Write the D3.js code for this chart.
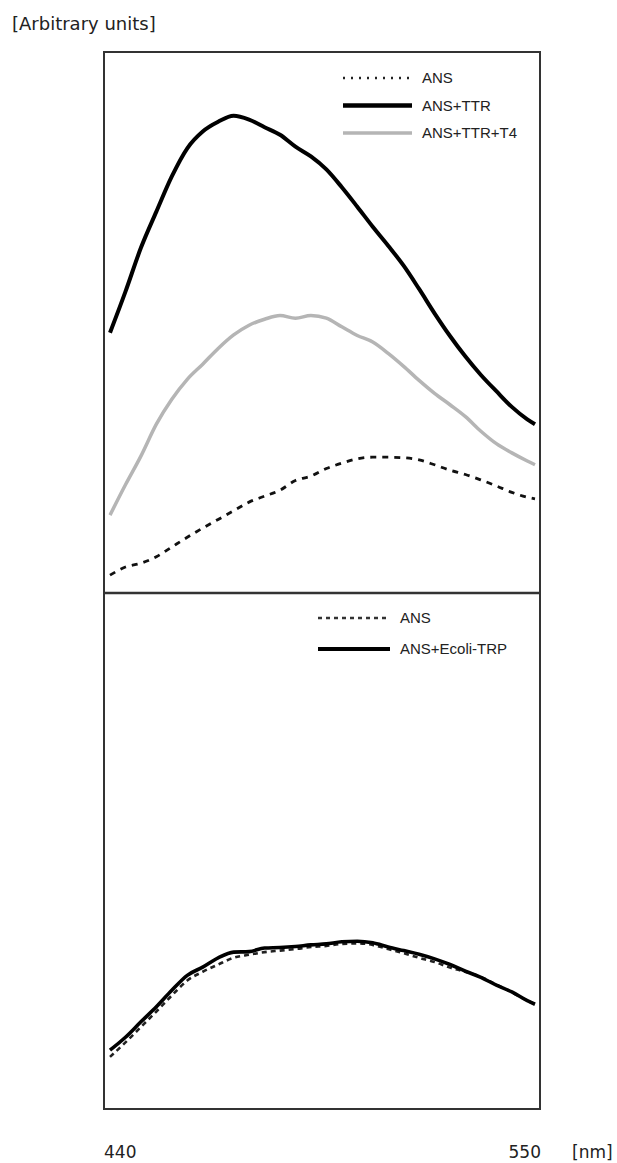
<!DOCTYPE html>
<html>
<head>
<meta charset="utf-8">
<script src="https://cdn.jsdelivr.net/npm/d3@7"></script>
<style>
  body { margin: 0; background: #fff; }
  svg { display: block; }
</style>
</head>
<body>
<svg id="viz"></svg>
<script>
// wavelength grid (nm)
const wavelengths = [440, 444, 448, 452, 456, 460, 464, 468, 472, 476, 480, 484, 488, 492, 496,
  500, 504, 508, 512, 516, 520, 524, 528, 532, 536, 540, 544, 548, 550];

// top panel (arbitrary units)
const ansTop = [3.3, 4.8, 5.5, 6.7, 8.5, 10.3, 12.0, 13.6, 15.2, 16.8, 17.9, 19.0, 20.8, 21.6, 23.0,
  24.0, 24.8, 25.1, 25.1, 25.0, 24.6, 23.7, 22.7, 21.9, 20.9, 19.8, 18.6, 17.7, 17.4];
const ansTTR = [48.1, 55.7, 63.8, 70.5, 77.0, 82.2, 85.3, 87.1, 88.2, 87.5, 86.1, 84.7, 82.5, 80.7, 78.3,
  75.0, 71.4, 67.7, 64.2, 60.5, 56.2, 51.7, 47.5, 43.7, 40.3, 37.3, 34.4, 32.1, 31.2];
const ansTTRT4 = [14.4, 20.0, 25.3, 31.2, 35.8, 39.5, 42.3, 45.2, 47.7, 49.5, 50.6, 51.3, 50.8, 51.3, 50.8,
  49.2, 47.6, 46.4, 44.3, 41.9, 39.3, 36.9, 34.8, 32.6, 29.9, 27.6, 25.9, 24.4, 23.7];

// bottom panel (arbitrary units)
const ansBottom = [10.1, 12.9, 15.9, 18.9, 22.0, 24.9, 26.6, 28.0, 29.3, 29.9, 30.4, 30.7, 31.0, 31.4, 31.6,
  32.0, 32.1, 31.8, 31.0, 30.2, 29.3, 28.5, 27.4, 26.6, 25.6, 24.1, 22.6, 21.0, 20.3];
const ansEcoli = [11.4, 13.9, 16.9, 19.8, 23.0, 25.9, 27.5, 29.3, 30.4, 30.5, 31.2, 31.3, 31.5, 31.8, 32.0,
  32.4, 32.5, 32.2, 31.4, 30.7, 30.0, 29.1, 28.0, 26.7, 25.5, 24.0, 22.7, 21.0, 20.3];

const topLegend = ['ANS', 'ANS+TTR', 'ANS+TTR+T4'];
const bottomLegend = ['ANS', 'ANS+Ecoli-TRP'];
const xTickLabels = ['440', '550'];

var width = 617;
var height = 1163;

var frame = { left: 104, right: 540, top: 52, mid: 593, bottom: 1109 };

var svg = d3.select('#viz').attr('width', width).attr('height', height);

var x = d3.scaleLinear().domain([440, 550]).range([110, 535]);
var yTop = d3.scaleLinear().domain([0, 100]).range([frame.mid, frame.top]);
var yBottom = d3.scaleLinear().domain([0, 100]).range([frame.bottom, frame.mid]);

function series(values) {
  return values.map(function (v, i) {
    return { w: wavelengths[i], v: v };
  });
}

function drawCurve(values, yScale, stroke, strokeWidth, dash) {
  var line = d3
    .line()
    .x(function (d) {
      return x(d.w);
    })
    .y(function (d) {
      return yScale(d.v);
    })
    .curve(d3.curveMonotoneX);

  svg
    .append('path')
    .datum(series(values))
    .attr('d', line)
    .attr('fill', 'none')
    .attr('stroke', stroke)
    .attr('stroke-width', strokeWidth)
    .attr('stroke-linejoin', 'round')
    .attr('stroke-dasharray', dash || null);
}

// top panel curves
drawCurve(ansTop, yTop, '#111', 2.8, '6,6');
drawCurve(ansTTRT4, yTop, '#b5b5b5', 3.5);
drawCurve(ansTTR, yTop, '#000', 4);

// bottom panel curves
drawCurve(ansBottom, yBottom, '#222', 2.6, '5,4');
drawCurve(ansEcoli, yBottom, '#000', 3.6);

// frames
svg
  .append('rect')
  .attr('x', frame.left)
  .attr('y', frame.top)
  .attr('width', frame.right - frame.left)
  .attr('height', frame.bottom - frame.top)
  .attr('fill', 'none')
  .attr('stroke', '#333')
  .attr('stroke-width', 2);

svg
  .append('line')
  .attr('x1', frame.left)
  .attr('x2', frame.right)
  .attr('y1', frame.mid)
  .attr('y2', frame.mid)
  .attr('stroke', '#333')
  .attr('stroke-width', 2.5);

// legends
var topStyles = [
  { stroke: '#222', width: 2.5, dash: '2,6' },
  { stroke: '#000', width: 4.5, dash: null },
  { stroke: '#b5b5b5', width: 3.5, dash: null },
];
var bottomStyles = [
  { stroke: '#333', width: 2.5, dash: '4,4' },
  { stroke: '#000', width: 4, dash: null },
];

function drawLegend(names, styles, x0, x1, y0, step) {
  var g = svg.append('g').attr('class', 'legend');
  var item = g
    .selectAll('g')
    .data(names)
    .enter()
    .append('g')
    .attr('transform', function (d, i) {
      return 'translate(0,' + (y0 + i * step) + ')';
    });

  item
    .append('line')
    .attr('x1', x0)
    .attr('x2', x1)
    .attr('stroke', function (d, i) {
      return styles[i].stroke;
    })
    .attr('stroke-width', function (d, i) {
      return styles[i].width;
    })
    .attr('stroke-dasharray', function (d, i) {
      return styles[i].dash;
    });

  item
    .append('text')
    .attr('x', x1 + 10)
    .attr('dy', '0.35em')
    .text(function (d) {
      return d;
    })
    .style('fill', '#222')
    .style('font-family', 'Liberation Sans, Arial, sans-serif')
    .style('font-size', '15px');
}

drawLegend(topLegend, topStyles, 343, 412, 78, 27.5);
drawLegend(bottomLegend, bottomStyles, 318, 390, 618, 31);

// axis texts
svg
  .append('text')
  .attr('x', 12)
  .attr('y', 30)
  .text('[Arbitrary units]')
  .style('fill', '#222')
  .style('font-family', 'DejaVu Sans, sans-serif')
  .style('font-size', '18px');

svg
  .append('text')
  .attr('x', frame.left)
  .attr('y', 1158)
  .text(xTickLabels[0])
  .style('fill', '#222')
  .style('font-family', 'DejaVu Sans, sans-serif')
  .style('font-size', '17px');

svg
  .append('text')
  .attr('x', frame.right + 1)
  .attr('y', 1158)
  .attr('text-anchor', 'end')
  .text(xTickLabels[1])
  .style('fill', '#222')
  .style('font-family', 'DejaVu Sans, sans-serif')
  .style('font-size', '17px');

svg
  .append('text')
  .attr('x', 572)
  .attr('y', 1158)
  .text('[nm]')
  .style('fill', '#222')
  .style('font-family', 'DejaVu Sans, sans-serif')
  .style('font-size', '17px');
</script>
</body>
</html>
